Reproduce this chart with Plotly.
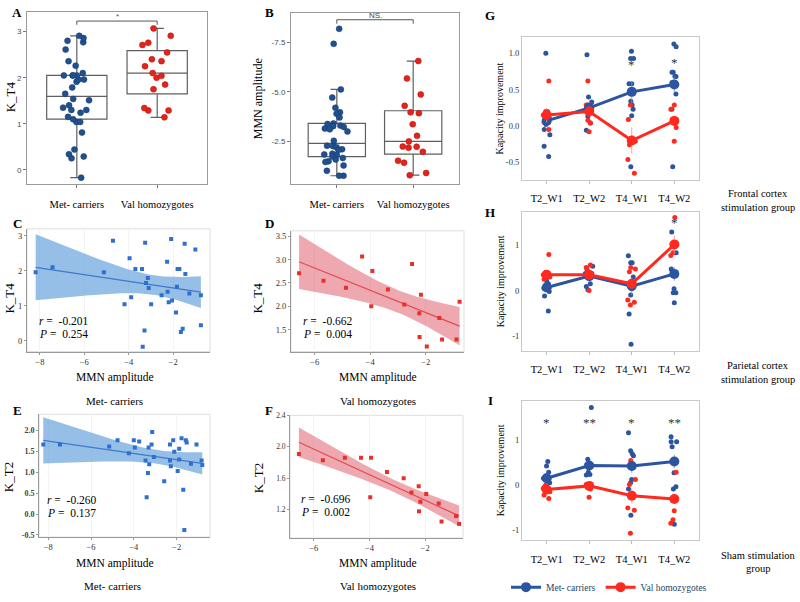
import numpy as np
import plotly.graph_objects as go

W, H = 800, 602
SERIF = "Liberation Serif"
SANS = "Liberation Sans"

# ---------------- data ----------------
groups = ["Met- carriers", "Val homozygotes"]

# Met carriers: MMN amplitude vs K_T4 (panels A, B, C)
met_mmn = [-8.19, -7.43, -4.71, -5.12, -3.96, -3.70, -3.40, -3.89, -4.19, -3.26, -3.22, -3.14,
           -3.10, -2.99, -3.29, -3.37, -2.52, -2.27, -2.25, -2.20, -2.09, -2.05, -1.87, -1.80,
           -1.72, -1.83, -1.48, -1.45, -1.57, -1.65, -1.27, -1.00, -0.75, -0.75]
met_k_t4 = [1.96, 2.10, 2.86, 1.96, 2.36, 2.05, 2.05, 1.24, 1.04, 2.80, 1.65, 1.79,
            1.51, 1.04, 0.29, -0.17, 1.30, 2.26, 1.40, 1.10, 2.91, 1.15, 0.81, 2.05,
            2.05, 1.54, 2.77, 1.91, 0.34, 0.25, 1.35, 2.61, 1.30, 0.44]

# Val homozygotes: MMN amplitude vs K_T4 (panels A, B, D)
val_mmn = [-6.56, -5.68, -4.87, -4.29, -3.92, -3.96, -3.36, -2.77, -2.49, -2.17, -2.23,
           -2.22, -1.96, -1.51, -1.41, -0.89, -0.78]
val_k_t4 = [2.71, 2.55, 2.40, 3.07, 2.76, 2.00, 2.36, 2.04, 2.91, 2.25, 1.85,
            1.34, 1.14, 1.75, 1.29, 1.29, 2.10]

# Met carriers: MMN amplitude vs K_T2 (panel E)
met_mmn_e = [-8.23, -7.45, -5.15, -4.76, -4.23, -4.00, -3.95, -3.75, -3.45, -3.40, -3.34, -3.31,
             -3.28, -3.17, -3.14, -3.06, -2.58, -2.31, -2.31, -2.27, -2.16, -2.11, -1.95, -1.88,
             -1.88, -1.77, -1.69, -1.64, -1.57, -1.53, -1.33, -1.07, -0.83, -0.80]
met_k_t2 = [1.66, 1.66, 1.61, 1.76, 1.45, 1.76, 1.59, 1.73, 1.28, 0.40, 0.98, 1.59,
            1.19, 1.66, 1.96, 1.36, 0.78, 1.66, 1.28, 1.14, 1.76, 1.49, 1.03, 1.56,
            1.30, 1.81, 0.58, -0.38, 1.76, 1.71, 1.20, 1.66, 1.28, 1.17]

# Val homozygotes: MMN amplitude vs K_T2 (panel F)
val_mmn_f = [-6.53, -5.67, -4.88, -4.30, -3.94, -3.97, -3.37, -2.77, -2.49, -2.17, -2.23,
             -2.22, -1.96, -1.51, -1.41, -0.89, -0.78]
val_k_t2 = [1.91, 1.83, 1.86, 1.86, 1.86, 1.36, 1.68, 1.60, 1.42, 1.30, 1.50,
            1.18, 1.40, 1.28, 1.05, 1.12, 1.02]

stats_c = ("-0.201", "0.254")
stats_d = ("-0.662", "0.004")
stats_e = ("-0.260", "0.137")
stats_f = ("-0.696", "0.002")

sessions = ["T2_W1", "T2_W2", "T4_W1", "T4_W2"]

# G: frontal cortex stimulation
g_met_mean = [0.07, 0.25, 0.47, 0.57]
g_met_se = [0.08, 0.07, 0.15, 0.11]
g_val_mean = [0.15, 0.20, -0.20, 0.07]
g_val_se = [0.10, 0.07, 0.18, 0.07]
g_met_pts = [[1.0, 0.20, 0.12, 0.08, 0.02, -0.05, -0.12, -0.28, -0.42],
             [0.98, 0.40, 0.29, 0.20, 0.13, 0.04, -0.06, 0.33, 0.25],
             [1.03, 0.93, 0.93, 0.58, 0.58, 0.34, 0.29, 0.23, 0.14, -0.56],
             [1.13, 1.09, 0.74, 0.74, 0.68, 0.68, 0.60, 0.44, 0.23, -0.56]]
g_val_pts = [[0.62, 0.20, 0.15, 0.10, 0.05, -0.05],
             [0.62, 0.29, 0.29, 0.08, 0.04, -0.08],
             [0.29, 0.09, -0.21, -0.21, -0.26, -0.46, -0.65],
             [0.29, 0.23, 0.08, -0.02, -0.21, 0.08]]
g_stars = ["", "", "*", "*"]
g_star_y = [0.84, 0.84, 0.84, 0.88]

# H: parietal cortex stimulation
h_met_mean = [0.07, 0.32, 0.10, 0.37]
h_met_se = [0.10, 0.10, 0.20, 0.15]
h_val_mean = [0.35, 0.35, 0.15, 1.02]
h_val_se = [0.10, 0.08, 0.10, 0.20]
h_met_pts = [[0.35, 0.22, 0.12, 0.05, -0.02, -0.12, -0.45, 0.15],
             [0.54, 0.48, 0.38, 0.38, 0.30, 0.15, 0.09, 0.02],
             [0.77, 0.62, 0.62, 0.04, -0.10, -0.52, -1.19, 0.30],
             [1.30, 0.84, 0.48, 0.44, 0.04, -0.05, -0.05, -0.27]]
h_val_pts = [[0.80, 0.40, 0.35, 0.30, 0.25, 0.05],
             [0.57, 0.51, 0.42, 0.30, 0.00],
             [0.51, 0.48, 0.42, -0.21, -0.26, -0.32],
             [1.62, 1.06, 0.84, 0.78, 1.00]]
h_stars = ["", "", "", "*"]
h_star_y = [1.5, 1.5, 1.5, 1.5]

# I: sham stimulation
i_met_mean = [0.15, 0.43, 0.42, 0.52]
i_met_se = [0.08, 0.07, 0.15, 0.15]
i_val_mean = [-0.10, -0.02, -0.24, -0.31]
i_val_se = [0.08, 0.06, 0.17, 0.10]
i_met_pts = [[0.52, 0.42, 0.28, 0.15, 0.05, -0.05, 0.20, -0.12],
             [1.72, 0.57, 0.28, 0.23, 0.22, -0.04, 0.45, 0.40],
             [1.16, 0.76, 0.69, 0.65, 0.12, 0.05, -0.09, -0.67],
             [1.07, 0.96, 0.96, 0.85, 0.27, -0.09, -0.04, -0.87]]
i_val_pts = [[0.15, 0.00, -0.08, -0.15, -0.30, -0.22],
             [0.01, -0.09, -0.27, 0.02, -0.02],
             [0.54, 0.12, 0.01, -0.51, -0.56, -1.07],
             [0.28, -0.57, -0.77, -0.85]]
i_stars = ["*", "**", "*", "**"]
i_star_y = [1.38, 1.38, 1.38, 1.38]

# ---------------- styles ----------------
BOX_BLUE, BOX_BLUE_EDGE = "#20508f", "#163a6a"
BOX_RED, BOX_RED_EDGE = "#e5231b", "#a8140e"
SC_BLUE, SC_BLUE_LINE, SC_BLUE_BAND = "#2e6fd0", "#3d7ac8", "rgba(86,152,218,0.62)"
SC_RED, SC_RED_LINE, SC_RED_BAND = "#e8302a", "#e24a52", "rgba(222,88,102,0.52)"
LN_BLUE, LN_RED = "#2b559e", "#ff2a1f"
EB_BLUE, EB_RED = "rgba(110,150,210,0.8)", "rgba(255,140,140,0.85)"


def px2paper(x, y):
    return x / W, 1 - y / H


# panel frames in pixels: (x0, x1, y0, y1)
frames = {
    1: (27, 207, 8, 183),     # A
    2: (291, 459, 9, 183),    # B
    3: (27, 210, 229, 354),   # C
    4: (291, 464, 231, 354),  # D
    5: (39, 210, 418, 543),   # E
    6: (290, 463, 419, 544),  # F
    7: (522, 699, 34, 179),   # G
    8: (522, 699, 212, 353),  # H
    9: (522, 699, 404, 546),  # I
}

fig = go.Figure()
layout = dict(width=W, height=H, margin=dict(l=0, r=0, t=0, b=0),
              paper_bgcolor="white", plot_bgcolor="white", boxmode="overlay",
              showlegend=True)
annotations = []
shapes = []


def ax_name(i, kind):
    return f"{kind}axis" if i == 1 else f"{kind}axis{i}"


def ref(i, kind):
    return kind if i == 1 else f"{kind}{i}"


def ann(text, x, y, size=11, family=SERIF, color="black", angle=0,
        xanchor="center", yanchor="middle"):
    px, py = px2paper(x, y)
    annotations.append(dict(text=text, x=px, y=py, xref="paper", yref="paper",
                            showarrow=False, textangle=angle, xanchor=xanchor,
                            yanchor=yanchor, font=dict(family=family, size=size, color=color)))


def set_axes(i, xcfg, ycfg):
    x0, x1, y0, y1 = frames[i]
    xd = [x0 / W, x1 / W]
    yd = [1 - y1 / H, 1 - y0 / H]
    base = dict(showgrid=False, zeroline=False)
    xc = dict(base, domain=xd, anchor=ref(i, "y"))
    xc.update(xcfg)
    yc = dict(base, domain=yd, anchor=ref(i, "x"))
    yc.update(ycfg)
    layout[ax_name(i, "x")] = xc
    layout[ax_name(i, "y")] = yc


# ---------------- A and B: box plots ----------------
def box_panel(i, met_vals, val_vals):
    for grp, vals, col, edge in [(groups[0], met_vals, BOX_BLUE, BOX_BLUE_EDGE),
                                 (groups[1], val_vals, BOX_RED, BOX_RED_EDGE)]:
        fig.add_trace(go.Box(x=[grp] * len(vals), y=vals, xaxis=ref(i, "x"), yaxis=ref(i, "y"),
                             boxpoints="all", jitter=0.55, pointpos=0, width=0.75,
                             whiskerwidth=0.22, fillcolor="rgba(255,255,255,0)",
                             line=dict(color="#5f5f5f", width=1.2),
                             marker=dict(color=col, size=6, line=dict(color=edge, width=0.5)),
                             showlegend=False, hoverinfo="y"))


box_panel(1, met_k_t4, val_k_t4)
box_panel(2, met_mmn, val_mmn)

frame_ax_ab = dict(showline=True, mirror=True, linecolor="#9a9a9a", linewidth=1,
                   ticks="outside", ticklen=3, tickcolor="#777", tickwidth=1)
set_axes(1,
         dict(frame_ax_ab, type="category", categoryorder="array", categoryarray=groups,
              range=[-0.62, 1.62], tickfont=dict(family=SERIF, size=10.5, color="black"),
              ticklabelstandoff=8),
         dict(frame_ax_ab, range=[-0.30, 3.43], tickvals=[0, 1, 2, 3],
              tickfont=dict(family=SANS, size=8, color="#4d4d4d")))
set_axes(2,
         dict(frame_ax_ab, type="category", categoryorder="array", categoryarray=groups,
              range=[-0.6, 1.6], tickfont=dict(family=SERIF, size=10.5, color="black"),
              ticklabelstandoff=8),
         dict(frame_ax_ab, range=[-0.35, -9.0], tickvals=[-7.5, -5.0, -2.5],
              ticktext=["-7.5", "-5.0", "-2.5"],
              tickfont=dict(family=SANS, size=8, color="#4d4d4d")))

# significance brackets
shapes.append(dict(type="path", xref="x", yref="y", path="M 0,3.15 L 0,3.23 L 1,3.23 L 1,3.15",
                   line=dict(color="#555", width=1)))
annotations.append(dict(text="*", x=0.5, y=3.33, xref="x", yref="y", showarrow=False,
                        font=dict(family=SANS, size=8, color="#555")))
shapes.append(dict(type="path", xref="x2", yref="y2", path="M 0,-8.45 L 0,-8.65 L 1,-8.65 L 1,-8.45",
                   line=dict(color="#555", width=1)))
annotations.append(dict(text="NS.", x=0.5, y=-8.85, xref="x2", yref="y2", showarrow=False,
                        font=dict(family=SANS, size=8, color="#444")))


# ---------------- C-F: scatter with regression ----------------
T_CRIT = {32: 2.037, 15: 2.131}


def fit_band(x, y):
    x = np.asarray(x, float)
    y = np.asarray(y, float)
    n = len(x)
    b, a = np.polyfit(x, y, 1)
    xs = np.linspace(x.min(), x.max(), 80)
    yhat = a + b * xs
    resid = y - (a + b * x)
    s = np.sqrt((resid ** 2).sum() / (n - 2))
    sxx = ((x - x.mean()) ** 2).sum()
    se = s * np.sqrt(1 / n + (xs - x.mean()) ** 2 / sxx)
    t = T_CRIT[n - 2]
    return xs, yhat, yhat - t * se, yhat + t * se


def scatter_panel(i, x, y, pcol, lcol, bcol):
    xs, yhat, lo, hi = fit_band(x, y)
    fig.add_trace(go.Scatter(x=np.concatenate([xs, xs[::-1]]), y=np.concatenate([hi, lo[::-1]]),
                             xaxis=ref(i, "x"), yaxis=ref(i, "y"), mode="lines", fill="toself",
                             fillcolor=bcol, line=dict(width=0), showlegend=False, hoverinfo="skip"))
    fig.add_trace(go.Scatter(x=xs, y=yhat, xaxis=ref(i, "x"), yaxis=ref(i, "y"), mode="lines",
                             line=dict(color=lcol, width=1.2), showlegend=False, hoverinfo="skip"))
    fig.add_trace(go.Scatter(x=x, y=y, xaxis=ref(i, "x"), yaxis=ref(i, "y"), mode="markers",
                             marker=dict(color=pcol, size=4, symbol="square"), showlegend=False))


scatter_panel(3, met_mmn, met_k_t4, SC_BLUE, SC_BLUE_LINE, SC_BLUE_BAND)
scatter_panel(4, val_mmn, val_k_t4, SC_RED, SC_RED_LINE, SC_RED_BAND)
scatter_panel(5, met_mmn_e, met_k_t2, SC_BLUE, SC_BLUE_LINE, SC_BLUE_BAND)
scatter_panel(6, val_mmn_f, val_k_t2, SC_RED, SC_RED_LINE, SC_RED_BAND)

sc_ax = dict(showline=True, linecolor="#9a9a9a", linewidth=1, ticks="outside", ticklen=2,
             tickcolor="#999", showgrid=True, gridcolor="#f3f3f3", gridwidth=1)
tick_serif = dict(family=SERIF, size=8.5, color="#333")
set_axes(3, dict(sc_ax, range=[-8.58, -0.34], tickvals=[-8, -6, -4, -2], tickfont=tick_serif),
         dict(sc_ax, range=[-0.31, 3.2], tickvals=[0, 1, 2, 3], showgrid=False, tickfont=tick_serif))
set_axes(4, dict(sc_ax, range=[-6.85, -0.62], tickvals=[-6, -4, -2], tickfont=tick_serif),
         dict(sc_ax, range=[1.03, 3.62], tickvals=[1.5, 2.0, 2.5, 3.0, 3.5],
              ticktext=["1.5", "2.0", "2.5", "3.0", "3.5"], showgrid=False, tickfont=tick_serif))
set_axes(5, dict(sc_ax, range=[-8.43, -0.44], tickvals=[-8, -6, -4, -2], tickfont=tick_serif),
         dict(sc_ax, range=[-0.55, 2.38], tickvals=[-0.5, 0, 0.5, 1.0, 1.5, 2.0],
              ticktext=["<b>-0.5</b>", "<b>0.0</b>", "<b>0.5</b>", "<b>1.0</b>", "<b>1.5</b>", "<b>2.0</b>"],
              showgrid=False, tickfont=dict(family=SERIF, size=8, color="#444")))
set_axes(6, dict(sc_ax, range=[-6.85, -0.64], tickvals=[-6, -4, -2], tickfont=tick_serif),
         dict(sc_ax, range=[0.84, 2.4], tickvals=[1.2, 1.6, 2.0, 2.4],
              ticktext=["1.2", "1.6", "2.0", "2.4"], showgrid=False,
              tickfont=dict(family=SERIF, size=7.5, color="#333")))

for i in (3, 4, 5, 6):
    shapes.append(dict(type="rect", xref=f"x{i} domain", yref=f"y{i} domain", x0=0, x1=1, y0=0, y1=1,
                       line=dict(color="#dedede", width=1), layer="below"))

# ---------------- G-I: line plots ----------------
def line_panel(i, met_mean, met_se, val_mean, val_se, met_pts, val_pts, stars, star_y, legend):
    for pts, col in [(met_pts, LN_BLUE), (val_pts, LN_RED)]:
        xs = [s for s, p in zip(sessions, pts) for _ in p]
        ys = [v for p in pts for v in p]
        fig.add_trace(go.Box(x=xs, y=ys, xaxis=ref(i, "x"), yaxis=ref(i, "y"), boxpoints="all",
                             jitter=0.6, pointpos=0, width=0.32, whiskerwidth=0,
                             fillcolor="rgba(0,0,0,0)", line=dict(color="rgba(0,0,0,0)", width=0),
                             marker=dict(color=col, size=5), showlegend=False, hoverinfo="y"))
    for name, mean, se, col, eb in [(groups[0], met_mean, met_se, LN_BLUE, EB_BLUE),
                                    (groups[1], val_mean, val_se, LN_RED, EB_RED)]:
        fig.add_trace(go.Scatter(x=sessions, y=mean, xaxis=ref(i, "x"), yaxis=ref(i, "y"),
                                 mode="lines+markers", name=name, showlegend=legend,
                                 line=dict(color=col, width=3), marker=dict(color=col, size=10),
                                 error_y=dict(type="data", array=se, color=eb, thickness=1, width=0)))
    for s, st, sy in zip(sessions, stars, star_y):
        if st:
            annotations.append(dict(text=st, x=s, y=sy, xref=ref(i, "x"), yref=ref(i, "y"),
                                    showarrow=False, font=dict(family=SERIF, size=13, color="#333")))


line_panel(7, g_met_mean, g_met_se, g_val_mean, g_val_se, g_met_pts, g_val_pts, g_stars, g_star_y, True)
line_panel(8, h_met_mean, h_met_se, h_val_mean, h_val_se, h_met_pts, h_val_pts, h_stars, h_star_y, False)
line_panel(9, i_met_mean, i_met_se, i_val_mean, i_val_se, i_met_pts, i_val_pts, i_stars, i_star_y, False)

ln_ax = dict(showline=True, mirror=True, linecolor="#c9c9c9", linewidth=1, ticks="outside",
             ticklen=3, tickcolor="#bbb")
for i, rng, tv, tt in [(7, [-0.74, 1.22], [-0.5, 0, 0.5, 1.0], ["-0.5", "0.0", "0.5", "1.0"]),
                       (8, [-1.33, 1.74], [-1, 0, 1], ["-1", "0", "1"]),
                       (9, [-1.22, 1.87], [-1, 0, 1], ["-1", "0", "1"])]:
    set_axes(i,
             dict(ln_ax, type="category", categoryorder="array", categoryarray=sessions,
                  range=[-0.58, 3.58], tickfont=dict(family=SERIF, size=10.5, color="black"),
                  ticklabelstandoff=6),
             dict(ln_ax, range=rng, tickvals=tv, ticktext=tt, ticks="",
                  tickfont=dict(family=SERIF, size=8.5, color="#333")))

layout["legend"] = dict(orientation="h", x=506 / W, y=1 - 594 / H, xanchor="left", yanchor="middle",
                        font=dict(family=SERIF, size=9.5), bgcolor="rgba(0,0,0,0)", itemwidth=30)

# ---------------- text ----------------
for letter, x, y in [("A", 17, 9), ("B", 269, 9), ("C", 17, 224), ("D", 269, 224), ("E", 17, 414),
                     ("F", 269, 414), ("G", 490, 12), ("H", 490, 212), ("I", 490, 404)]:
    ann(f"<b>{letter}</b>", x, y, size=13)

ann("K_T4", 10, 95, size=13, angle=-90)
ann("MMN amplitude", 258, 97, size=12, angle=-90)
ann("K_T4", 10, 300, size=13, angle=-90)
ann("K_T4", 258, 300, size=13, angle=-90)
ann("K_T2", 8, 482, size=13, angle=-90)
ann("K_T2", 258, 483, size=13, angle=-90)

ann("MMN amplitude", 115, 380, size=11.5)
ann("MMN amplitude", 378, 380, size=11.5)
ann("MMN amplitude", 115, 570, size=11.5)
ann("MMN amplitude", 378, 570, size=11.5)
ann("Met- carriers", 115, 404, size=11)
ann("Val homozygotes", 378, 404, size=11)
ann("Met- carriers", 112, 593, size=11)
ann("Val homozygotes", 378, 593, size=11)

for (r, p), x, y in [(stats_c, 37, 323), (stats_d, 301, 323), (stats_e, 45, 505), (stats_f, 299, 504)]:
    ann(f"<i>r</i> =  {r}", x, y, size=11.5, xanchor="left")
    ann(f"<i>P</i> =  {p}", x, y + 13, size=11.5, xanchor="left")

for i in (7, 8, 9):
    x0, x1, y0, y1 = frames[i]
    ann("Kapacity improvement", 500, (y0 + y1) / 2, size=10, angle=-90)

RX = 758
ann("Frontal cortex", RX, 193, size=10.5)
ann("stimulation group", RX, 207, size=10.5)
ann("Parietal cortex", RX, 368, size=10.5)
ann("stimulation group", RX, 382, size=10.5)
ann("Sham stimulation", RX, 562, size=10.5)
ann("group", RX, 575, size=10.5)

layout["annotations"] = annotations
layout["shapes"] = shapes
fig.update_layout(**layout)
fig.write_html("out.html", config={"displayModeBar": False},
               post_script="document.body.style.margin='0px';document.body.style.padding='0px';")
